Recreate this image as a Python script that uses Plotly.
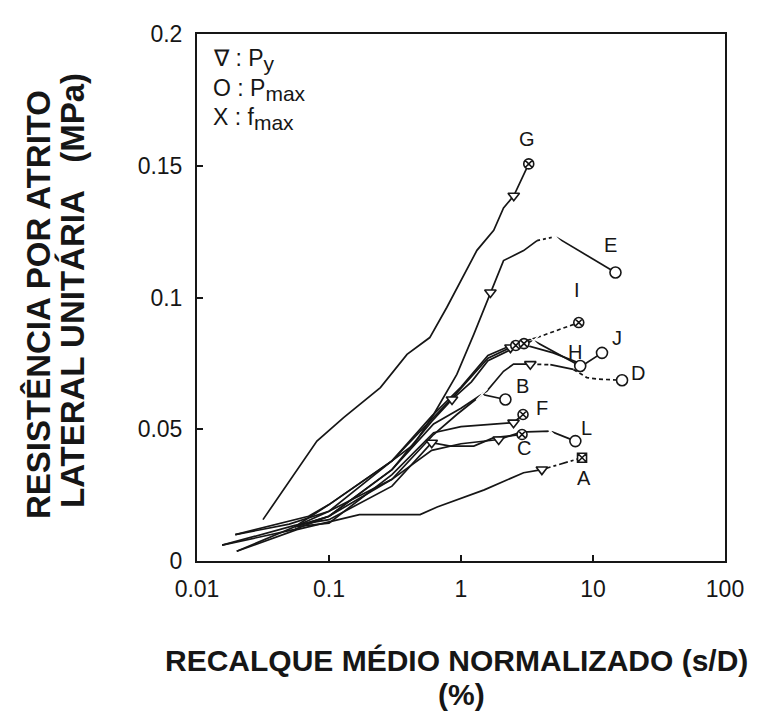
import numpy as np
import plotly.graph_objects as go

# ---------------- data ----------------
x_tick_vals = [0.01, 0.1, 1, 10, 100]
x_tick_text = ["0.01", "0.1", "1", "10", "100"]
y_tick_vals = [0, 0.05, 0.1, 0.15, 0.2]
y_tick_text = ["0", "0.05", "0.1", "0.15", "0.2"]

# solid parts of the curves
A_x = [0.020, 0.057, 0.17, 0.49, 0.66, 1.5, 2.98, 4.1]
A_y = [0.0037, 0.0119, 0.0176, 0.0176, 0.0205, 0.027, 0.0335, 0.0347]
B_x = [0.0195, 0.05, 0.1, 0.3, 0.62, 0.93, 1.44, 2.17]
B_y = [0.010, 0.0140, 0.0189, 0.031, 0.048, 0.0556, 0.0632, 0.0613]
C_x = [0.0155, 0.055, 0.1, 0.3, 0.6, 0.83, 1.25, 1.77, 2.9]
C_y = [0.006, 0.0135, 0.0157, 0.0284, 0.0449, 0.0436, 0.0436, 0.0468, 0.048]
D_x = [0.055, 0.1, 0.3, 0.62, 1.0, 1.57, 2.1, 2.5, 3.35]
D_y = [0.0130, 0.0170, 0.0347, 0.052, 0.058, 0.0645, 0.072, 0.0747, 0.0747]
E_x = [0.055, 0.1, 0.3, 0.44, 0.62, 0.93, 1.25, 1.67, 2.1, 2.98, 3.77]
E_y = [0.0130, 0.0189, 0.038, 0.0442, 0.0556, 0.0708, 0.086, 0.1019, 0.114, 0.1178, 0.1216]
F_x = [0.055, 0.1, 0.3, 0.62, 1.0, 1.57, 2.5, 2.95]
F_y = [0.0130, 0.0144, 0.0328, 0.0487, 0.051, 0.0518, 0.0525, 0.0556]
G_x = [0.0316, 0.081, 0.129, 0.245, 0.39, 0.58, 0.78, 1.32, 1.77, 2.1, 2.51, 3.26]
G_y = [0.0157, 0.0455, 0.0544, 0.0658, 0.0784, 0.0848, 0.0962, 0.1179, 0.1255, 0.134, 0.1386, 0.1507]
H_x = [0.055, 0.1, 0.3, 0.6, 0.9, 1.6, 2.37, 3.0, 3.55, 8.0]
H_y = [0.0130, 0.0214, 0.038, 0.054, 0.063, 0.077, 0.081, 0.0825, 0.0836, 0.074]
I_x = [0.0195, 0.07, 0.1, 0.3, 0.6, 1.0, 1.6, 2.5, 3.77]
I_y = [0.010, 0.017, 0.0214, 0.038, 0.055, 0.066, 0.078, 0.0822, 0.0848]
J_x = [0.0155, 0.055, 0.1, 0.3, 0.6, 0.855, 1.2, 1.6, 2.9, 5.0, 8.5, 11.7]
J_y = [0.006, 0.012, 0.017, 0.0347, 0.053, 0.0613, 0.068, 0.076, 0.0823, 0.079, 0.0745, 0.079]
L_x = [0.020, 0.055, 0.1, 0.3, 0.6, 1.0, 1.93, 2.9, 3.16, 4.75, 7.35]
L_y = [0.0037, 0.013, 0.017, 0.031, 0.042, 0.0445, 0.0461, 0.049, 0.049, 0.0493, 0.0455]

# dashed / dash-dot tails
A_tail_x = [4.1, 8.26]
A_tail_y = [0.0347, 0.0392]
E_tail_x = [3.77, 5.19]
E_tail_y = [0.1216, 0.1231]
E_end_x = [5.19, 14.8]
E_end_y = [0.1231, 0.1095]
I_tail_x = [3.77, 7.8]
I_tail_y = [0.0848, 0.0905]
D_tail1_x = [3.35, 4.75]
D_tail1_y = [0.0747, 0.0745]
D_mid_x = [4.75, 7.1]
D_mid_y = [0.0745, 0.0727]
D_tail2_x = [7.1, 9.0, 11.0, 16.6]
D_tail2_y = [0.0727, 0.0696, 0.069, 0.0686]

# special points
py_x = [2.51, 1.67, 4.1, 3.35, 2.5, 0.6, 1.93, 2.37, 0.855]
py_y = [0.1386, 0.1019, 0.0347, 0.0747, 0.0525, 0.0449, 0.0461, 0.081, 0.0613]
pmax_x = [14.8, 2.17, 7.35, 8.0, 11.7, 16.6]
pmax_y = [0.1095, 0.0613, 0.0455, 0.074, 0.079, 0.0686]
fmax_x = [5.19, 1.44, 4.75, 3.55]
fmax_y = [0.1231, 0.0632, 0.0493, 0.0836]
both_x = [3.26, 7.8, 2.95, 2.9, 2.6, 3.0]
both_y = [0.1507, 0.0905, 0.0556, 0.048, 0.0818, 0.0825]
boxed_x = [8.26]
boxed_y = [0.0392]

label_names = ["G", "E", "I", "H", "J", "D", "B", "F", "L", "C", "A"]
label_x = [3.16, 13.5, 7.6, 7.3, 15.2, 22.0, 2.9, 4.1, 9.0, 3.0, 8.5]
label_y = [0.160, 0.120, 0.1027, 0.0795, 0.0848, 0.0715, 0.0665, 0.0582, 0.0506, 0.043, 0.0316]

# ---------------- figure ----------------
INK = "#161616"
LW = 1.7
fig = go.Figure()

def line(xs, ys, dash="solid"):
    fig.add_trace(go.Scatter(x=xs, y=ys, mode="lines",
                             line=dict(color=INK, width=LW, dash=dash),
                             hoverinfo="skip", showlegend=False))

for xs, ys in [(A_x, A_y), (B_x, B_y), (C_x, C_y), (D_x, D_y), (E_x, E_y),
               (F_x, F_y), (G_x, G_y), (H_x, H_y), (I_x, I_y), (J_x, J_y),
               (L_x, L_y), (E_end_x, E_end_y), (D_mid_x, D_mid_y)]:
    line(xs, ys)
line(A_tail_x, A_tail_y, "dashdot")
line(E_tail_x, E_tail_y, "3px,3px")
line(I_tail_x, I_tail_y, "4px,3px")
line(D_tail1_x, D_tail1_y, "4px,3px")
line(D_tail2_x, D_tail2_y, "4px,3px")

def marks(xs, ys, symbol, size):
    fig.add_trace(go.Scatter(x=xs, y=ys, mode="markers",
                             marker=dict(symbol=symbol, size=size, color="white",
                                         line=dict(color=INK, width=1.6)),
                             hoverinfo="skip", showlegend=False))

marks(py_x, py_y, "triangle-down", 10)
marks(pmax_x, pmax_y, "circle", 11)
marks(fmax_x, fmax_y, "x-thin-open", 11)
marks(both_x, both_y, "circle-x", 10)
marks(boxed_x, boxed_y, "square-x", 9)

FONT = "Liberation Sans, Arial, sans-serif"
for n, lx, ly in zip(label_names, label_x, label_y):
    fig.add_annotation(x=np.log10(lx), y=ly, text=n, showarrow=False,
                       font=dict(family=FONT, size=20, color=INK),
                       xanchor="center", yanchor="middle")

L0, R0, T0, B0 = 189, 717, 26, 553
def px(xp):
    return (xp - L0) / (R0 - L0)
def py(yp):
    return (B0 - yp) / (B0 - T0)

SUB = '<sub><span style="font-size:21px">{}</span></sub>'
legend_rows = ["\u2207 : P" + SUB.format("y"),
               "O : P" + SUB.format("max"),
               "X : f" + SUB.format("max")]
for txt, yy in zip(legend_rows, [52, 82, 111]):
    fig.add_annotation(xref="paper", yref="paper", x=px(203), y=py(yy), text=txt,
                       showarrow=False, xanchor="left", yanchor="middle",
                       font=dict(family=FONT, size=23, color=INK))

fig.add_annotation(xref="paper", yref="paper", x=px(448), y=py(652),
                   text="<b>RECALQUE MÉDIO NORMALIZADO (s/D)</b>", showarrow=False,
                   xanchor="center", yanchor="middle", font=dict(family=FONT, size=30, color=INK))
fig.add_annotation(xref="paper", yref="paper", x=px(453), y=py(686),
                   text="<b>(%)</b>", showarrow=False,
                   xanchor="center", yanchor="middle", font=dict(family=FONT, size=30, color=INK))
fig.add_annotation(xref="paper", yref="paper", x=px(31), y=py(297),
                   text="<b>RESISTÊNCIA POR ATRITO</b>", showarrow=False, textangle=-90,
                   xanchor="center", yanchor="middle", font=dict(family=FONT, size=33, color=INK))
fig.add_annotation(xref="paper", yref="paper", x=px(64), y=py(283),
                   text="<b>LATERAL UNITÁRIA\u00a0\u00a0\u00a0(MPa)</b>", showarrow=False, textangle=-90,
                   xanchor="center", yanchor="middle", font=dict(family=FONT, size=33, color=INK))

axis_common = dict(showline=True, linecolor=INK, linewidth=2, mirror=True,
                   showgrid=False, zeroline=False, ticks="inside", ticklen=6,
                   tickwidth=1.5, tickcolor=INK,
                   tickfont=dict(family=FONT, size=23, color=INK))
fig.update_xaxes(type="log", range=[-2, 2], tickvals=x_tick_vals, ticktext=x_tick_text,
                 ticklabelstandoff=6, **axis_common)
fig.update_yaxes(range=[0, 0.2], tickvals=y_tick_vals, ticktext=y_tick_text,
                 ticklabelstandoff=8, **axis_common)

fig.update_layout(width=760, height=711, plot_bgcolor="white", paper_bgcolor="white",
                  margin=dict(l=L0, r=760 - R0, t=T0, b=711 - B0), showlegend=False)

fig.write_html("out.html")
